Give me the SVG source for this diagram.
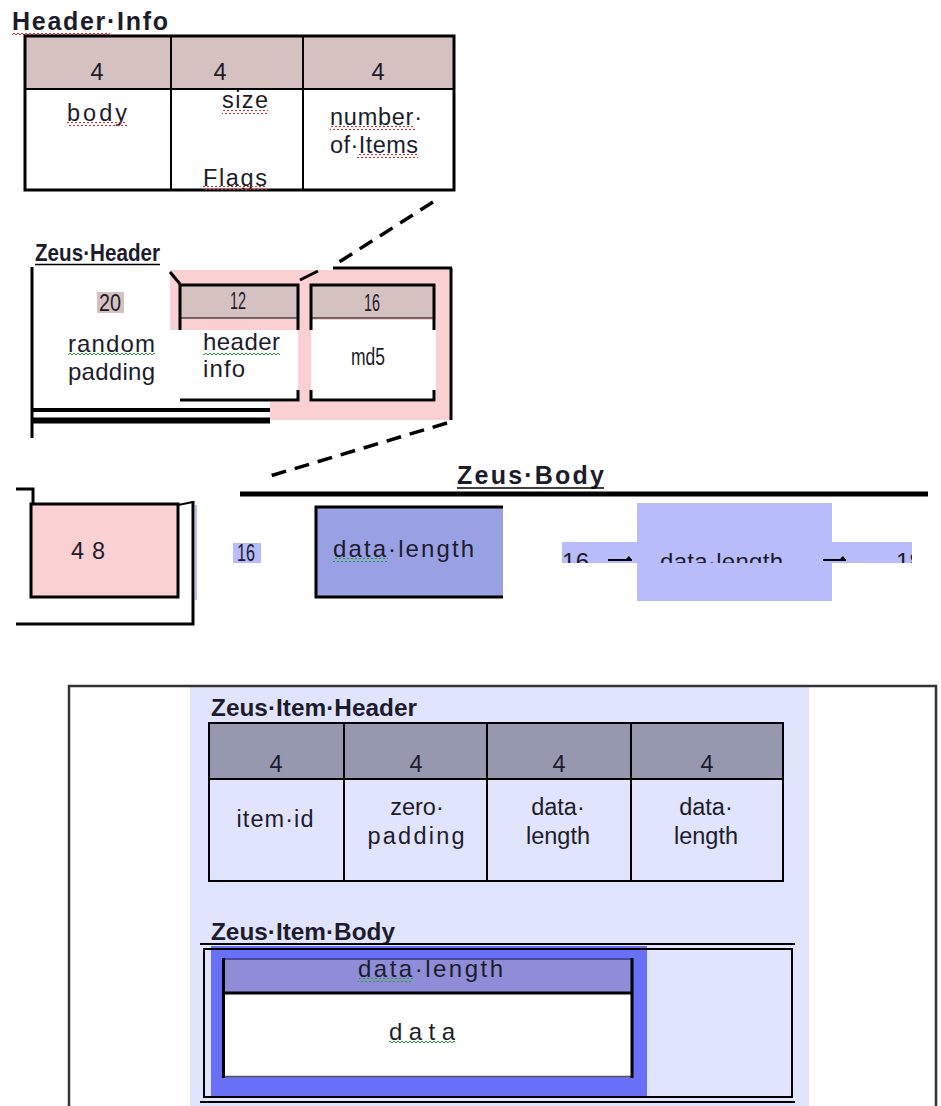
<svg xmlns="http://www.w3.org/2000/svg" width="941" height="1106" viewBox="0 0 941 1106">
  <style>
    text { font-family: "Liberation Sans", Arial, sans-serif; fill: #1c1c2c; }
    .t20 { font-size: 23.5px; }
    .t21 { font-size: 24px; }
    .title { font-size: 25px; font-weight: bold; }
    .mid { text-anchor: middle; }
    .blk { stroke: #000; fill: none; }
    .w3 { stroke-width: 3; }
    .w2 { stroke-width: 2; }
    .dash { stroke: #000; stroke-width: 3.5; stroke-dasharray: 15 9; fill: none; }
    .rosy { fill: #d6c1c1; }
    .pink { fill: #fbd0d2; }
    .lav { fill: #b8bcfb; }
  </style>
  <defs>
    <pattern id="wavyRed" width="4" height="4" patternUnits="userSpaceOnUse">
      <path d="M0 3 L2 1 L4 3" fill="none" stroke="#e02020" stroke-width="1"/>
    </pattern>
    <pattern id="wavyGreen" width="4" height="4" patternUnits="userSpaceOnUse">
      <path d="M0 3 L2 1 L4 3" fill="none" stroke="#20a020" stroke-width="1"/>
    </pattern>
    <marker id="tip" markerWidth="8" markerHeight="6" refX="7" refY="4" orient="auto" markerUnits="userSpaceOnUse">
      <path d="M0 4 L4 0 L7 4 Z" fill="#000"/>
    </marker>
    <clipPath id="bandClip"><rect x="555" y="500" width="357" height="63"/></clipPath>
  </defs>

  <!-- Header Info table -->
  <g id="header-info">
    <text x="12" y="30" class="title" textLength="156" lengthAdjust="spacing">Header·Info</text>
    <rect x="12" y="31" width="98" height="4" fill="url(#wavyRed)"/>
    <rect x="25" y="36" width="429" height="53" class="rosy"/>
    <rect x="25" y="36" width="429" height="154" class="blk w3"/>
    <line x1="25" y1="89" x2="454" y2="89" class="blk w2"/>
    <line x1="171" y1="36" x2="171" y2="190" class="blk w2"/>
    <line x1="303" y1="36" x2="303" y2="190" class="blk w2"/>
    <text x="97" y="80" class="t20 mid">4</text>
    <text x="220" y="80" class="t20 mid">4</text>
    <text x="378" y="80" class="t20 mid">4</text>
    <text x="67" y="121" class="t20" textLength="60" lengthAdjust="spacing">body</text>
    <rect x="67" y="122" width="60" height="4" fill="url(#wavyRed)"/>
    <text x="222" y="108" class="t20" textLength="46" lengthAdjust="spacing">size</text>
    <rect x="222" y="110" width="46" height="4" fill="url(#wavyRed)"/>
    <text x="203" y="186" class="t20" textLength="64" lengthAdjust="spacing">Flags</text>
    <rect x="203" y="186" width="64" height="4" fill="url(#wavyRed)"/>
    <text x="330" y="125" class="t20" textLength="92" lengthAdjust="spacing">number·</text>
    <rect x="330" y="126" width="85" height="4" fill="url(#wavyRed)"/>
    <text x="330" y="153" class="t20" textLength="88" lengthAdjust="spacing">of·Items</text>
    <rect x="357" y="154" width="61" height="4" fill="url(#wavyRed)"/>
  </g>

  <!-- Zeus Header -->
  <g id="zeus-header">
    <text x="35" y="261" class="t21" font-weight="bold" textLength="125" lengthAdjust="spacingAndGlyphs">Zeus·Header</text>
    <line x1="35" y1="264.5" x2="160" y2="264.5" stroke="#000" stroke-width="1.5"/>
    <!-- pink surround -->
    <rect x="170" y="270" width="282" height="150" class="pink"/>
    <rect x="170" y="330" width="128" height="72" fill="#fff"/>
    <rect x="311" y="320" width="125" height="82" fill="#fff"/>
    <rect x="33" y="268" width="137" height="140" fill="#fff"/>
    <rect x="33" y="400" width="237" height="24" fill="#fff"/>
    <!-- outer frame -->
    <line x1="32" y1="267" x2="32" y2="438" class="blk w3"/>
    <line x1="333" y1="268" x2="452" y2="268" class="blk w3"/>
    <line x1="451" y1="268" x2="451" y2="420" class="blk w3"/>
    <line x1="32" y1="410" x2="270" y2="410" stroke="#000" stroke-width="4"/>
    <line x1="32" y1="420.5" x2="270" y2="420.5" stroke="#000" stroke-width="6"/>
    <path d="M170 272 L180 284" class="blk w3"/>
    <path d="M300 280 L318 271" class="blk w3"/>
    <!-- random padding -->
    <rect x="97" y="292" width="27" height="21" class="rosy"/>
    <text x="110" y="311" class="t20 mid" textLength="22" lengthAdjust="spacingAndGlyphs">20</text>
    <text x="68" y="352" class="t21" textLength="87" lengthAdjust="spacing">random</text>
    <rect x="68" y="353" width="87" height="4" fill="url(#wavyGreen)"/>
    <text x="68" y="380" class="t21" textLength="87" lengthAdjust="spacing">padding</text>
  </g>

  <g id="header-info-field">
    <rect x="180" y="285" width="118" height="33" class="rosy"/>
    <path d="M180 330 L180 285 L298 285 L298 330" class="blk w3"/>
    <path d="M180 400 L298 400 L298 390" class="blk w3"/>
    <line x1="180" y1="318" x2="298" y2="318" stroke="#000" stroke-width="1"/>
    <text x="238" y="309" class="t20 mid" textLength="16" lengthAdjust="spacingAndGlyphs">12</text>
    <text x="203" y="350" class="t21" textLength="77" lengthAdjust="spacing">header</text>
    <rect x="203" y="351" width="77" height="4" fill="url(#wavyGreen)"/>
    <text x="203" y="377" class="t21" textLength="42" lengthAdjust="spacing">info</text>
  </g>

  <g id="md5-field">
    <rect x="311" y="285" width="123" height="33" class="rosy"/>
    <path d="M311 330 L311 285 L434 285 L434 330" class="blk w3"/>
    <path d="M311 390 L311 400 L434 400 L434 390" class="blk w3"/>
    <line x1="311" y1="318" x2="434" y2="318" stroke="#000" stroke-width="1"/>
    <text x="372" y="311" class="t20 mid" textLength="16" lengthAdjust="spacingAndGlyphs">16</text>
    <text x="368" y="365" class="t20 mid" textLength="34" lengthAdjust="spacingAndGlyphs">md5</text>
  </g>

  <!-- Zeus Body -->
  <g id="zeus-body">
    <text x="457" y="484" class="title" textLength="147" lengthAdjust="spacing">Zeus·Body</text>
    <line x1="457" y1="488" x2="604" y2="488" stroke="#000" stroke-width="1.5"/>
    <line x1="240" y1="494" x2="928" y2="494" stroke="#000" stroke-width="5"/>
  </g>

  <g id="body-prefix">
    <path d="M16 489 L33 489 L33 504" class="blk w3"/>
    <rect x="31" y="504" width="147" height="93" class="pink"/>
    <rect x="31" y="504" width="147" height="93" class="blk w3"/>
    <path d="M178 505 L193 502" class="blk w2"/>
    <path d="M193 501 L193 624 L16 624" class="blk w3"/>
    <rect x="195" y="505" width="2" height="95" class="lav"/>
    <text x="88" y="559" class="t20 mid" textLength="34" lengthAdjust="spacing">4 8</text>
  </g>

  <g id="body-len">
    <rect x="233" y="543" width="28" height="20" class="lav"/>
    <text x="246" y="561" class="t20 mid" textLength="18" lengthAdjust="spacingAndGlyphs">16</text>
  </g>

  <g id="body-data1">
    <rect x="315" y="506" width="188" height="92" fill="#9aa0e4"/>
    <path d="M503 507 L316 507 L316 597 L503 597" class="blk w3"/>
    <text x="333" y="557" class="t21" textLength="141" lengthAdjust="spacing">data·length</text>
    <rect x="333" y="558" width="55" height="4" fill="url(#wavyGreen)"/>
  </g>

  <g id="body-data2">
    <rect x="562" y="542" width="350" height="21" class="lav"/>
    <rect x="637" y="503" width="195" height="98" class="lav"/>
    <g clip-path="url(#bandClip)">
      <text x="562" y="570" class="t21" textLength="27" lengthAdjust="spacing">16</text>
      <text x="660" y="570" class="t21" textLength="123" lengthAdjust="spacing">data·length</text>
      <text x="896" y="570" class="t21">18</text>
    </g>
  </g>

  <!-- Zeus Item -->
  <g id="zeus-item">
    <rect x="190" y="686" width="619" height="420" fill="#e0e4fc"/>
    <path d="M69 1106 L69 686 L936 686 L936 1106" fill="none" stroke="#333" stroke-width="2.5"/>
  </g>

  <g id="item-header">
    <text x="211" y="716" class="t21" font-weight="bold" textLength="206" lengthAdjust="spacingAndGlyphs">Zeus·Item·Header</text>
    <rect x="209" y="723" width="574" height="56" fill="#9698b0"/>
    <rect x="209" y="723" width="574" height="158" class="blk w2"/>
    <line x1="209" y1="779" x2="783" y2="779" class="blk w2"/>
    <line x1="344" y1="723" x2="344" y2="881" class="blk w2"/>
    <line x1="487" y1="723" x2="487" y2="881" class="blk w2"/>
    <line x1="631" y1="723" x2="631" y2="881" class="blk w2"/>
    <text x="276" y="772" class="t20 mid">4</text>
    <text x="416" y="772" class="t20 mid">4</text>
    <text x="559" y="772" class="t20 mid">4</text>
    <text x="707" y="772" class="t20 mid">4</text>
    <text x="275" y="827" class="t20 mid" textLength="77" lengthAdjust="spacing">item·id</text>
    <text x="417" y="815" class="t20 mid">zero·</text>
    <text x="416" y="844" class="t20 mid" textLength="97" lengthAdjust="spacing">padding</text>
    <text x="558" y="815" class="t20 mid">data·</text>
    <text x="558" y="844" class="t20 mid">length</text>
    <text x="706" y="815" class="t20 mid">data·</text>
    <text x="706" y="844" class="t20 mid">length</text>
  </g>

  <g id="item-body">
    <text x="211" y="940" class="t21" font-weight="bold" textLength="184" lengthAdjust="spacingAndGlyphs">Zeus·Item·Body</text>
    <line x1="200" y1="944" x2="795" y2="944" stroke="#000" stroke-width="2"/>
    <rect x="211" y="946" width="436" height="152" fill="#6870f8"/>
    <rect x="204" y="949" width="588" height="148" class="blk" stroke-width="2"/>
    <line x1="200" y1="1102" x2="795" y2="1102" stroke="#000" stroke-width="2"/>
    <rect x="223" y="958" width="409" height="35" fill="#8f8cd8"/>
    <line x1="223" y1="959" x2="632" y2="959" stroke="#4a4aa0" stroke-width="2"/>
    <rect x="224" y="994" width="407" height="82" fill="#fff"/>
    <line x1="224" y1="1076.5" x2="631" y2="1076.5" stroke="#555" stroke-width="1.5"/>
    <line x1="222" y1="993" x2="633" y2="993" class="blk w3"/>
    <line x1="223.5" y1="958" x2="223.5" y2="1078" class="blk w3"/>
    <line x1="632" y1="958" x2="632" y2="1078" class="blk w3"/>
    <text x="358" y="977" class="t21" textLength="145" lengthAdjust="spacing">data·length</text>
    <rect x="358" y="978" width="55" height="4" fill="url(#wavyGreen)"/>
    <text x="389" y="1040" class="t21" textLength="66" lengthAdjust="spacing">data</text>
    <rect x="389" y="1041" width="66" height="4" fill="url(#wavyGreen)"/>
  </g>

  <!-- zoom-out dashed guides and flow arrows -->
  <g id="connectors">
    <line x1="433" y1="202" x2="333" y2="266" class="dash"/>
    <line x1="447" y1="423" x2="270" y2="476" class="dash"/>
    <line x1="608" y1="560" x2="632" y2="560" stroke="#000" stroke-width="2" marker-end="url(#tip)"/>
    <line x1="823" y1="560" x2="846" y2="560" stroke="#000" stroke-width="2" marker-end="url(#tip)"/>
  </g>
</svg>
